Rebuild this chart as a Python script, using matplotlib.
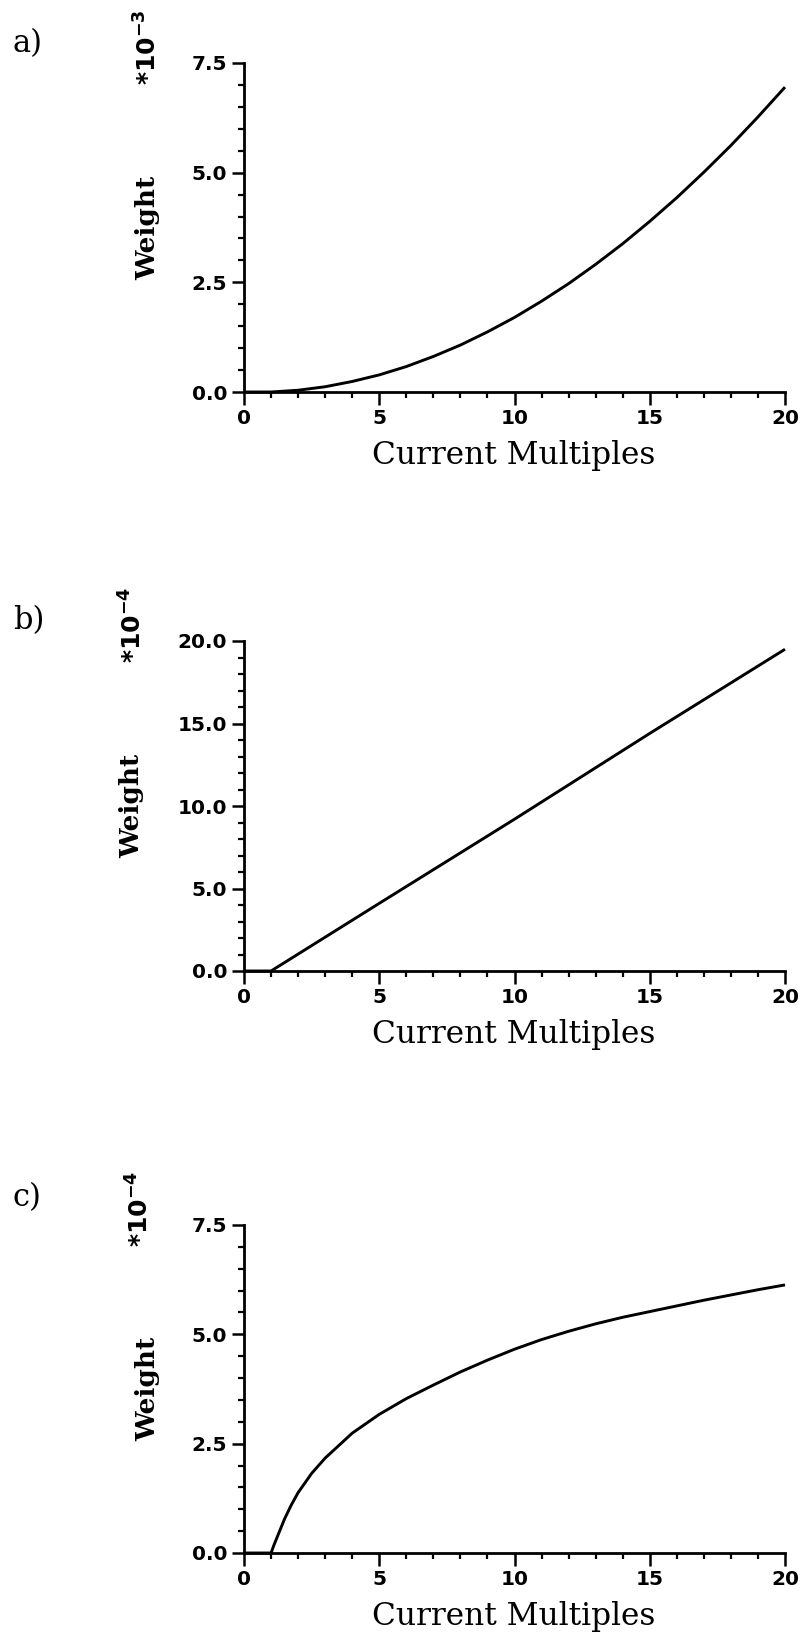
import matplotlib
matplotlib.use("Agg")
import matplotlib.pyplot as plt
from matplotlib.ticker import MultipleLocator, FormatStrFormatter

# panel a) weight * 1e-3
xa = [0, 1, 2, 3, 4, 5, 6, 7, 8, 9, 10, 11, 12, 13, 14, 15, 16, 17, 18, 19, 20]
ya = [0, 0, 0.04, 0.12, 0.24, 0.39, 0.58, 0.81, 1.07, 1.37, 1.70,
      2.07, 2.47, 2.91, 3.38, 3.89, 4.43, 5.01, 5.62, 6.27, 6.95]

# panel b) weight * 1e-4
xb = [0, 1, 5, 10, 15, 20]
yb = [0, 0, 4.1, 9.2, 14.4, 19.5]

# panel c) weight * 1e-4
xc = [0, 1, 1.1, 1.25, 1.5, 1.75, 2, 2.5, 3, 4, 5, 6, 7, 8, 9, 10, 11, 12, 13, 14,
      15, 16, 17, 18, 19, 20]
yc = [0, 0, 0.17, 0.40, 0.78, 1.10, 1.38, 1.82, 2.17, 2.74, 3.17, 3.53, 3.84, 4.14,
      4.41, 4.66, 4.88, 5.07, 5.24, 5.39, 5.52, 5.65, 5.78, 5.90, 6.02, 6.13]

panel_tags = ["a)", "b)", "c)"]
exponents = ["-3", "-4", "-4"]
xlabel = "Current Multiples"
ylabel = "Weight"

W, H = 806, 1639
fig = plt.figure(figsize=(W / 100, H / 100), dpi=100)


def fx(px):
    return px / W


def fy(py):
    return 1 - py / H


# (top px, bottom px, ymax, major, minor, weight label x, multiplier right x, tag baseline)
layout = [
    (63, 392, 7.5, 2.5, 0.5, 148, 162, 52),
    (641, 971, 20.0, 5.0, 1.0, 132, 147, 629),
    (1225, 1553, 7.5, 2.5, 0.5, 148, 154, 1206),
]
series = [(xa, ya), (xb, yb), (xc, yc)]

left_px, right_px = 244, 785

for i, (top, bot, ymax, major, minor, wx, mx, tag_y) in enumerate(layout):
    ax = fig.add_axes([fx(left_px), fy(bot), fx(right_px - left_px), (bot - top) / H])
    x, y = series[i]
    ax.plot(x, y, color="black", lw=2.1, clip_on=False, solid_capstyle="butt")

    ax.set_xlim(0, 20)
    ax.set_ylim(0, ymax)
    for s in ["top", "right"]:
        ax.spines[s].set_visible(False)
    for s in ["left", "bottom"]:
        ax.spines[s].set_linewidth(2.0)

    ax.xaxis.set_major_locator(MultipleLocator(5))
    ax.xaxis.set_minor_locator(MultipleLocator(1))
    ax.yaxis.set_major_locator(MultipleLocator(major))
    ax.yaxis.set_minor_locator(MultipleLocator(minor))
    ax.yaxis.set_major_formatter(FormatStrFormatter("%.1f"))

    ax.tick_params(which="major", direction="out", length=9, width=1.8, pad=3,
                   labelsize=14.5)
    ax.tick_params(which="minor", direction="out", length=4.5, width=1.6)
    for lab in ax.get_xticklabels() + ax.get_yticklabels():
        lab.set_fontweight("bold")
        lab.set_family("DejaVu Sans")

    # labels placed in figure pixels
    fig.text(fx(514), fy(bot + 72), xlabel, ha="center", va="baseline",
             family="DejaVu Serif", fontsize=22.5)
    fig.text(fx(wx), fy((top + bot) / 2), ylabel, rotation=90, ha="center",
             va="center", family="DejaVu Serif", fontweight="bold", fontsize=19)
    fig.text(fx(mx), fy(top + 22), "*10$^{\\mathbf{" + exponents[i] + "}}$",
             rotation=90, ha="right", va="bottom", family="DejaVu Sans",
             fontweight="bold", fontsize=18)
    fig.text(fx(13), fy(tag_y), panel_tags[i], ha="left", va="baseline",
             family="DejaVu Serif", fontsize=22)

fig.savefig("out.png", dpi=100, facecolor="white")
